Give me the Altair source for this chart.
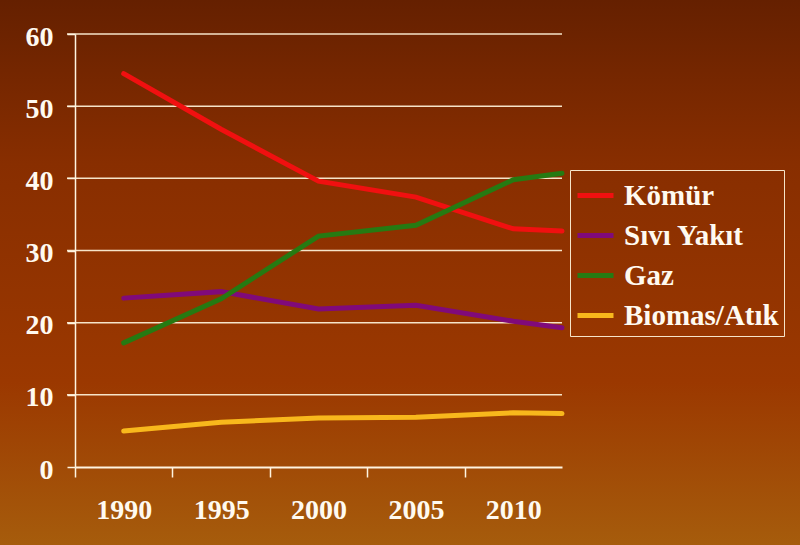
import altair as alt
import pandas as pd

years = [1990, 1995, 2000, 2005, 2010, 2012.5]
series_names = ["Kömür", "Sıvı Yakıt", "Gaz", "Biomas/Atık"]
komur = [54.5, 46.8, 39.6, 37.4, 33.0, 32.7]
sivi = [23.4, 24.3, 21.9, 22.4, 20.2, 19.3]
gaz = [17.2, 23.3, 32.0, 33.5, 39.8, 40.7]
biomas = [5.0, 6.2, 6.8, 6.9, 7.5, 7.4]
colors = ["#f01010", "#800a7a", "#267a12", "#f8b81c"]
y_ticks = [0, 10, 20, 30, 40, 50, 60]

rows = []
for name, vals in zip(series_names, [komur, sivi, gaz, biomas]):
    for y, v in zip(years, vals):
        rows.append({"Yıl": y, "Değer": v, "Yakıt": name})
df = pd.DataFrame(rows)
grid_df = pd.DataFrame({"Değer": y_ticks[1:]})

FONT = "Liberation Serif"
LINE_C = "#fff4e0"

bg = alt.Chart(pd.DataFrame({"a": [0]})).mark_rect(
    color=alt.Gradient(
        gradient="linear",
        stops=[
            alt.GradientStop(color="#652000", offset=0),
            alt.GradientStop(color="#882e00", offset=0.3),
            alt.GradientStop(color="#9b3800", offset=0.7),
            alt.GradientStop(color="#a65c0c", offset=1),
        ],
        x1=0, x2=0, y1=0, y2=1,
    )
).encode(
    x=alt.value(-75), x2=alt.value(725), y=alt.value(-34), y2=alt.value(511)
)

yscale = alt.Scale(domain=[0, 60], nice=False)

grid = alt.Chart(grid_df).mark_rule(color="#f6e4c8", strokeWidth=1.5).encode(
    y=alt.Y("Değer:Q", scale=yscale),
    x=alt.value(-8),
    x2=alt.value(487),
)

lines = alt.Chart(df).mark_line(strokeWidth=5, strokeCap="round").encode(
    x=alt.X(
        "Yıl:Q",
        scale=alt.Scale(domain=[1987.5, 2012.5], nice=False, zero=False),
        axis=alt.Axis(
            values=[1987.5, 1992.5, 1997.5, 2002.5, 2007.5],
            labelExpr="format(datum.value + 2.5, 'd')",
            labelOffset=48.75,
            labelFlush=False,
            labelOverlap=False,
            labelBound=False,
            labelAlign="center",
            title=None,
            grid=False,
            tickSize=10,
            tickColor=LINE_C,
            tickWidth=1.5,
            domainColor=LINE_C,
            domainWidth=2,
            labelFont=FONT,
            labelFontSize=28,
            labelFontWeight="bold",
            labelColor="#fffaf0",
            labelPadding=19,
            zindex=1,
        ),
    ),
    y=alt.Y(
        "Değer:Q",
        scale=yscale,
        axis=alt.Axis(
            values=y_ticks,
            title=None,
            grid=False,
            tickSize=8,
            tickColor=LINE_C,
            tickWidth=1.5,
            domainColor=LINE_C,
            domainWidth=1.5,
            labelFont=FONT,
            labelFontSize=28,
            labelFontWeight="bold",
            labelColor="#fffaf0",
            labelPadding=14,
            labelOffset=3,
            zindex=1,
        ),
    ),
    color=alt.Color(
        "Yakıt:N",
        sort=series_names,
        scale=alt.Scale(domain=series_names, range=colors),
        legend=alt.Legend(
            title=None,
            orient="none",
            legendX=495,
            legendY=136,
            symbolType="stroke",
            symbolSize=1296,
            symbolStrokeWidth=5,
            labelFont=FONT,
            labelFontSize=29,
            labelFontWeight="bold",
            labelColor="#fffaf0",
            labelLimit=300,
            rowPadding=4,
            strokeColor="#f6e4c8",
            padding=5,
            labelOffset=8,
        ),
    ),
    order=alt.Order("Yıl:Q"),
)

chart = alt.layer(bg, grid, lines).properties(
    width=487,
    height=433,
    padding={"left": 75, "top": 34, "right": 238, "bottom": 78},
    autosize=alt.AutoSizeParams(type="none"),
).configure_view(strokeWidth=0).configure(background="#7a2a00")

chart.save("out.html", embed_options={"renderer": "svg", "actions": False})
